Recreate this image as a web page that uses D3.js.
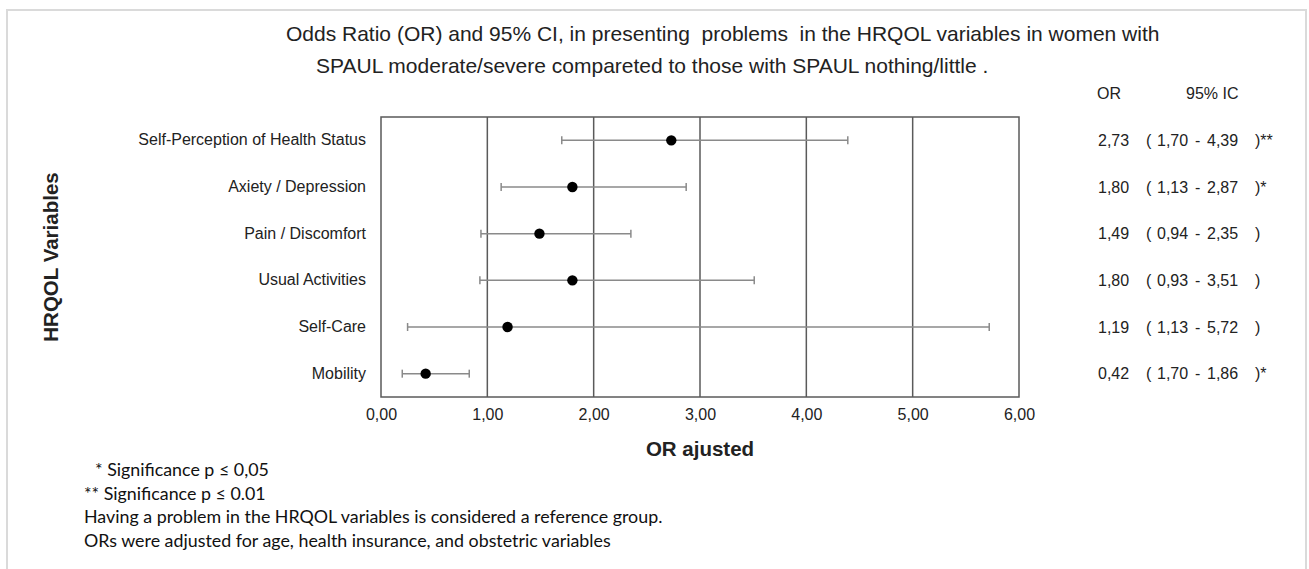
<!DOCTYPE html>
<html>
<head>
<meta charset="utf-8">
<script src="https://cdn.jsdelivr.net/npm/d3@7"></script>
<style>
body { margin: 0; background: #fff; }
svg { display: block; }
text { font-family: "Liberation Sans", Arial, sans-serif; fill: #222; }
.note { font-family: Lato, "Open Sans", sans-serif; fill: #111; }
</style>
</head>
<body>
<div id="chart"></div>
<script>
// rows, top to bottom
const variables = ["Self-Perception of Health Status", "Axiety / Depression", "Pain / Discomfort",
                   "Usual Activities", "Self-Care", "Mobility"];
const oddsRatio = [2.73, 1.80, 1.49, 1.80, 1.19, 0.42];
// whiskers as drawn in the figure
const ciLow  = [1.70, 1.13, 0.94, 0.93, 0.25, 0.20];
const ciHigh = [4.39, 2.87, 2.35, 3.51, 5.72, 0.83];
// right-hand table, as printed
const orText   = ["2,73", "1,80", "1,49", "1,80", "1,19", "0,42"];
const lowText  = ["1,70", "1,13", "0,94", "0,93", "1,13", "1,70"];
const highText = ["4,39", "2,87", "2,35", "3,51", "5,72", "1,86"];
const stars    = ["**", "*", "", "", "", "*"];
const xTicks = [0, 1, 2, 3, 4, 5, 6];
const titleLines = [
  "Odds Ratio (OR) and 95% CI, in presenting  problems  in the HRQOL variables in women with",
  "SPAUL moderate/severe compareted to those with SPAUL nothing/little ."
];
const notes = [
  "* Significance p \u2264 0,05",
  "** Significance p \u2264 0.01",
  "Having a problem in the HRQOL variables is considered a reference group.",
  "ORs were adjusted for age, health insurance, and obstetric variables"
];

const W = 1309, H = 569;
const box = { left: 381, right: 1019, top: 117, bottom: 397 };
const fs = 16;

const svg = d3.select("#chart").append("svg")
  .attr("width", W).attr("height", H);

// outer frame (runs off the bottom)
svg.append("rect")
  .attr("x", 7).attr("y", 10).attr("width", 1299).attr("height", 620)
  .attr("fill", "none").attr("stroke", "#dadada").attr("stroke-width", 2);

const x = d3.scaleLinear().domain([0, 6]).range([box.left, box.right]);
const y = d3.scaleBand().domain(variables).range([box.top, box.bottom]);
const cy = d => y(d) + y.bandwidth() / 2;

// title
svg.append("g").selectAll("text")
  .data(titleLines)
  .join("text")
  .attr("x", (d, i) => i ? 316 : 286)
  .attr("y", (d, i) => 41 + i * 32)
  .attr("font-size", 21)
  .style("white-space", "pre")
  .text(d => d);

// grid + frame
svg.append("g").selectAll("line")
  .data(xTicks.slice(1, -1))
  .join("line")
  .attr("x1", d => x(d)).attr("x2", d => x(d))
  .attr("y1", box.top).attr("y2", box.bottom)
  .attr("stroke", "#5a5a5a").attr("stroke-width", 1.5);

svg.append("rect")
  .attr("x", box.left).attr("y", box.top)
  .attr("width", box.right - box.left).attr("height", box.bottom - box.top)
  .attr("fill", "none").attr("stroke", "#5a5a5a").attr("stroke-width", 1.5);

// axes
svg.append("g")
  .attr("transform", `translate(0,${box.bottom})`)
  .call(d3.axisBottom(x).tickValues(xTicks).tickSize(0).tickPadding(12)
          .tickFormat(d => d3.format(".2f")(d).replace(".", ",")))
  .call(g => g.select(".domain").remove())
  .call(g => g.selectAll("text").attr("font-size", fs).attr("fill", "#222")
                                .style("font-family", "'Liberation Sans', Arial, sans-serif"));

svg.append("g")
  .attr("transform", `translate(${box.left},0)`)
  .call(d3.axisLeft(y).tickSize(0).tickPadding(15))
  .call(g => g.select(".domain").remove())
  .call(g => g.selectAll("text").attr("font-size", fs).attr("fill", "#222")
                                .style("font-family", "'Liberation Sans', Arial, sans-serif"));

svg.append("text")
  .attr("x", (box.left + box.right) / 2).attr("y", 456)
  .attr("text-anchor", "middle").attr("font-size", 20.5).attr("font-weight", "bold")
  .text("OR ajusted");

svg.append("text")
  .attr("transform", `translate(58,${(box.top + box.bottom) / 2}) rotate(-90)`)
  .attr("text-anchor", "middle").attr("font-size", 20.5).attr("font-weight", "bold")
  .text("HRQOL Variables");

// whiskers
const rows = variables.map((v, i) => ({ v, or: oddsRatio[i], lo: ciLow[i], hi: ciHigh[i] }));
const marks = svg.append("g").selectAll("g").data(rows).join("g");

marks.append("line")
  .attr("x1", d => x(d.lo)).attr("x2", d => x(d.hi))
  .attr("y1", d => cy(d.v)).attr("y2", d => cy(d.v))
  .attr("stroke", "#8a8a8a").attr("stroke-width", 1.5);

["lo", "hi"].forEach(k => {
  marks.append("line")
    .attr("x1", d => x(d[k])).attr("x2", d => x(d[k]))
    .attr("y1", d => cy(d.v) - 4).attr("y2", d => cy(d.v) + 4)
    .attr("stroke", "#8a8a8a").attr("stroke-width", 1.5);
});

marks.append("circle")
  .attr("cx", d => x(d.or)).attr("cy", d => cy(d.v))
  .attr("r", 5.2).attr("fill", "#000");

// right table
const tab = svg.append("g").attr("font-size", fs);
tab.append("text").attr("x", 1097).attr("y", 99).text("OR");
tab.append("text").attr("x", 1186).attr("y", 99).text("95% IC");

const cols = [
  { x: 1098, f: i => orText[i] },
  { x: 1146, f: i => "(" },
  { x: 1157, f: i => lowText[i] },
  { x: 1195, f: i => "-" },
  { x: 1207, f: i => highText[i] },
  { x: 1255, f: i => ")" + stars[i] }
];
cols.forEach(c => {
  tab.append("g").selectAll("text")
    .data(variables)
    .join("text")
    .attr("x", c.x).attr("y", d => cy(d) + 5.5)
    .text((d, i) => c.f(i));
});

// footnotes, sized to the printed width of the third line
const noteG = svg.append("g");
const noteText = noteG.selectAll("text")
  .data(notes)
  .join("text")
  .attr("class", "note")
  .attr("x", (d, i) => i ? 84 : 95)
  .attr("y", (d, i) => 476 + i * 23.5)
  .attr("font-size", 17)
  .text(d => d);
const w3 = noteText.nodes()[2].getComputedTextLength();
noteText.attr("font-size", 17 * 579 / w3);
</script>
</body>
</html>
